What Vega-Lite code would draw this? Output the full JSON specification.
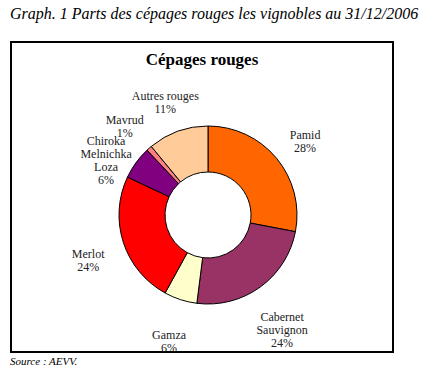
{
  "$schema": "https://vega.github.io/schema/vega-lite/v6.json",
  "background": "white",
  "padding": {"left": 10, "top": 6, "right": 5, "bottom": 0},
  "title": {"text": "Graph. 1 Parts des cépages rouges les vignobles au 31/12/2006", "anchor": "start", "font": "'Liberation Serif', 'DejaVu Serif', serif", "fontSize": 16, "fontStyle": "italic", "fontWeight": "normal", "color": "black", "offset": 19},
  "vconcat": [{
    "title": {"text": "Source : AEVV.", "orient": "bottom", "anchor": "start", "font": "'Liberation Serif', 'DejaVu Serif', serif", "fontSize": 11, "fontStyle": "italic", "fontWeight": "normal", "color": "black", "offset": 2},
    "vconcat": [{
      "width": 382,
      "height": 310,
      "title": {"text": "Cépages rouges", "offset": -28, "font": "'Liberation Serif', 'DejaVu Serif', serif", "fontSize": 17, "fontWeight": "bold", "color": "black"},
      "data": {"values": [
        {"idx": 1, "cat": "Pamid", "value": 28, "label": "Pamid\n28%"},
        {"idx": 2, "cat": "Cabernet Sauvignon", "value": 24, "label": "Cabernet\nSauvignon\n24%"},
        {"idx": 3, "cat": "Gamza", "value": 6, "label": "Gamza\n6%"},
        {"idx": 4, "cat": "Merlot", "value": 24, "label": "Merlot\n24%"},
        {"idx": 5, "cat": "Chiroka Melnichka Loza", "value": 6, "label": "Chiroka\nMelnichka\nLoza\n6%"},
        {"idx": 6, "cat": "Mavrud", "value": 1, "label": "Mavrud\n1%"},
        {"idx": 7, "cat": "Autres rouges", "value": 11, "label": "Autres rouges\n11%"}
      ]},
      "layer": [
        {
          "data": {"values": [{}]},
          "mark": {"type": "rect", "fill": "transparent", "stroke": "black", "strokeWidth": 2},
          "encoding": {}
        },
        {
          "mark": {"type": "arc", "outerRadius": 89, "innerRadius": 43, "stroke": "black", "strokeWidth": 1, "x": 197, "y": 173},
          "encoding": {
            "theta": {"field": "value", "type": "quantitative", "stack": true},
            "order": {"field": "idx", "type": "quantitative"},
            "color": {"field": "cat", "type": "nominal", "legend": null, "scale": {
              "domain": ["Pamid", "Cabernet Sauvignon", "Gamza", "Merlot", "Chiroka Melnichka Loza", "Mavrud", "Autres rouges"],
              "range": ["#FF6600", "#993366", "#FFFFCC", "#FF0000", "#800080", "#FF8080", "#FFCC99"]}}
          }
        },
        {
          "mark": {"type": "text", "radius": 126, "lineBreak": "\n", "font": "'Liberation Serif', 'DejaVu Serif', serif", "fontSize": 12, "lineHeight": 13, "color": "#222222", "x": 197, "y": 173},
          "encoding": {
            "theta": {"field": "value", "type": "quantitative", "stack": true},
            "order": {"field": "idx", "type": "quantitative"},
            "text": {"field": "label", "type": "nominal"}
          }
        }
      ]
    }]
  }],
  "config": {"view": {"stroke": null}, "concat": {"spacing": 0}}
}
